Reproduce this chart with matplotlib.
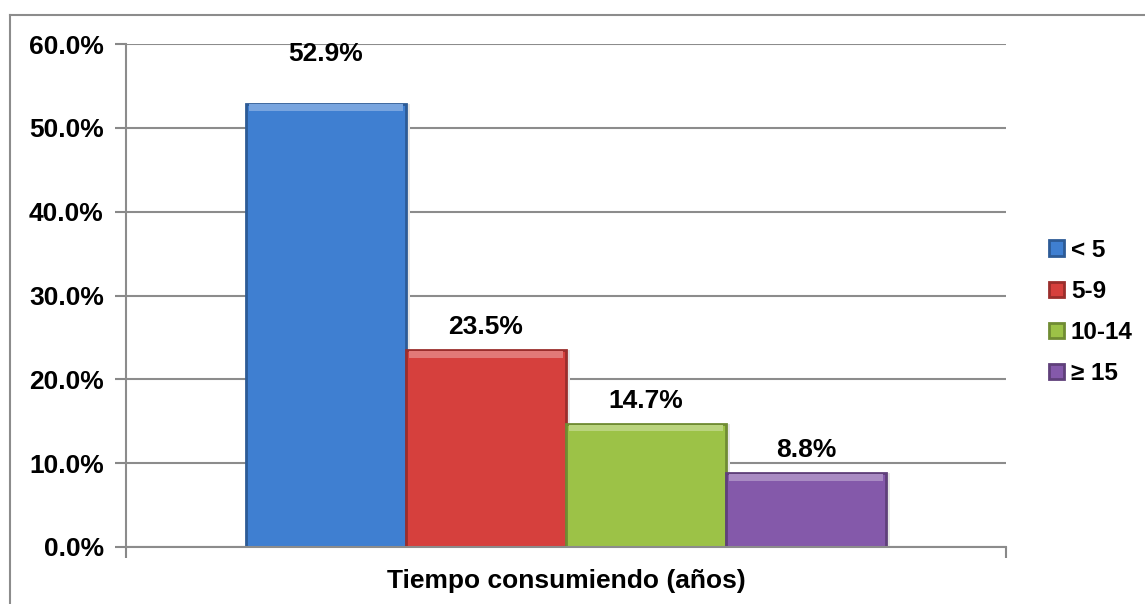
import matplotlib.pyplot as plt
from matplotlib.lines import Line2D
from matplotlib.patches import Rectangle
import matplotlib.colors as mcolors

# data
categorias = ["< 5", "5-9", "10-14", "≥ 15"]
porcentajes = [52.9, 23.5, 14.7, 8.8]
colores = ["#3f7fd1", "#d6403d", "#9cc247", "#8459aa"]
yticks = [0, 10, 20, 30, 40, 50, 60]
xlabel = "Tiempo consumiendo (años)"

# label offsets above each bar (points); Excel pushed the first one higher
label_offsets = [27, 8, 8, 8]

plt.rcParams['font.family'] = ['Liberation Sans', 'DejaVu Sans']
plt.rcParams['font.weight'] = 'bold'
FS = 19

fig = plt.figure(figsize=(11.45, 6.04), dpi=100)
ax = fig.add_axes([126/1145, 1 - 547/604, 880/1145, 503/604])

width = 160 / 880
n = len(porcentajes)
for i, (lab, val, col) in enumerate(zip(categorias, porcentajes, colores)):
    x = (i - (n - 1) / 2) * width
    dark = [c * 0.72 for c in mcolors.to_rgb(col)]
    light = [min(1, c * 0.7 + 0.3) for c in mcolors.to_rgb(col)]
    # soft shadow
    ax.add_patch(Rectangle((x - width / 2 + 0.004, 0), width, val, facecolor="#e6e6e6",
                           edgecolor="none", zorder=2))
    ax.bar(x, val, width=width, color=col, edgecolor=dark, linewidth=2, label=lab, zorder=3)
    # top highlight (bevel)
    ax.add_patch(Rectangle((x - width / 2 + 0.003, val - 0.9), width - 0.006, 0.8,
                           facecolor=light, edgecolor="none", zorder=4))
    ax.annotate(f"{val:.1f}%", (x, val), xytext=(0, label_offsets[i]), textcoords="offset points",
                ha="center", va="bottom", fontsize=FS, fontweight="bold")

ax.set_xlim(-0.5, 0.5)
ax.set_ylim(0, 60)
ax.set_yticks(yticks)
ax.set_yticklabels([f"{v:.1f}%" for v in yticks], fontsize=FS, fontweight="bold")
ax.set_xticks([-0.5, 0.5])
ax.set_xticklabels(["", ""])
ax.tick_params(axis="both", direction="out", length=8, width=1.5, color="#888888", pad=8)
ax.grid(axis="y", color="#8c8c8c", linewidth=1.5, zorder=0)
ax.set_axisbelow(True)
for s in ["top", "right"]:
    ax.spines[s].set_visible(False)
for s in ["left", "bottom"]:
    ax.spines[s].set_color("#8c8c8c")
    ax.spines[s].set_linewidth(1.5)
    ax.spines[s].set_zorder(5)
ax.set_xlabel(xlabel, fontsize=FS, fontweight="bold", labelpad=0)

fig.legend(loc="center left", bbox_to_anchor=(1049/1145, 1 - 312/604), frameon=False,
           borderpad=0, borderaxespad=0,
           handlelength=0.6, handleheight=0.6, handletextpad=0.3,
           labelspacing=0.75, prop={"weight": "bold", "size": 17.5})

# outer chart border (top and left)
fig.add_artist(Line2D([10/1145, 1], [1 - 15/604] * 2, color="#8c8c8c", lw=1.5))
fig.add_artist(Line2D([10/1145] * 2, [0, 1 - 15/604], color="#8c8c8c", lw=1.5))

fig.savefig("out.png", dpi=100)
